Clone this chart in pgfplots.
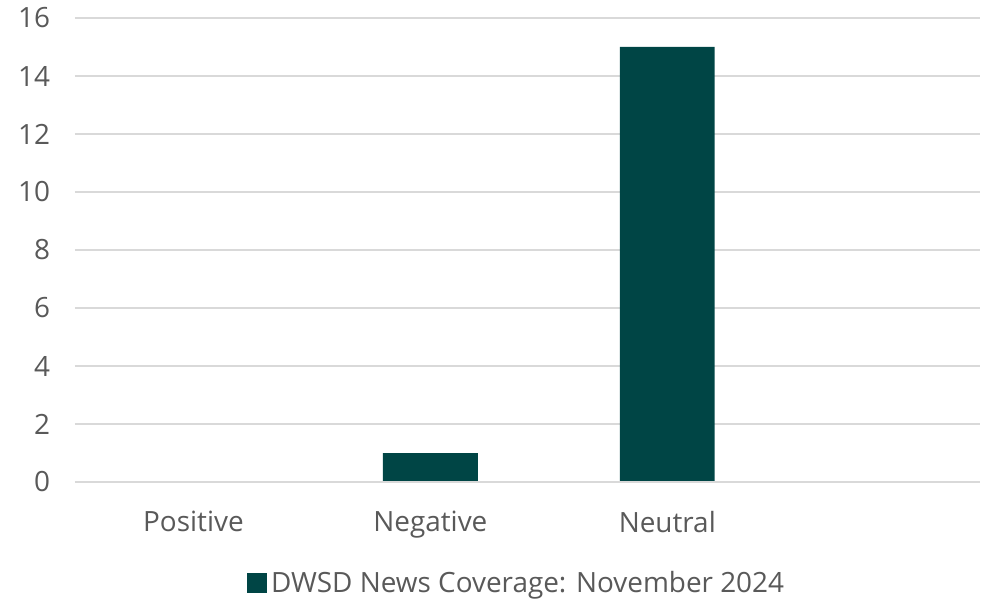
\documentclass[border=0pt]{standalone}
\usepackage{pgfplots}
\pgfplotsset{compat=1.18}
\usepackage{fontspec}
\setmainfont{Open Sans}
\definecolor{barc}{HTML}{004545}
\definecolor{txt}{HTML}{595959}
\definecolor{grd}{HTML}{D9D9D9}
\begin{document}
\begin{tikzpicture}
\useasboundingbox (-37.5bp,-60bp) rectangle (454bp,241bp);
\begin{axis}[
  at={(0,0)}, anchor=south west,
  scale only axis,
  width=452.5bp, height=232bp,
  xmin=-0.5, xmax=3.32,
  ymin=0, ymax=16,
  ytick={0,2,...,16},
  xtick={0,1,2},
  xticklabels={Positive,Negative,Neutral},
  ymajorgrids,
  grid style={grd, line width=1pt},
  axis line style={draw=none},
  axis x line*=bottom,
  axis y line*=left,
  major tick length=0pt,
  tick style={draw=none},
  ticklabel style={text=txt, font=\fontsize{14}{17}\selectfont},
  /pgf/number format/assume math mode=true,
  yticklabel style={xshift=-9bp},
  xticklabel style={yshift=-11bp},
  legend style={at={(0.489,-0.218)}, anchor=center, draw=none, fill=none,
    font=\fontsize{14}{17}\selectfont, text=txt,
    legend cell align=left},
  legend image code/.code={\fill[barc] (0bp,-5bp) rectangle (10bp,5bp);},
  clip=false,
]
\addplot[ybar, bar width=0.4, fill=barc, draw=none] coordinates {(0,0) (1,1) (2,15)};
\addlegendentry{DWSD News Coverage: November 2024}
\draw[grd, line width=1pt] (axis cs:-0.5,0) -- (axis cs:3.32,0);
\end{axis}
\end{tikzpicture}
\end{document}
